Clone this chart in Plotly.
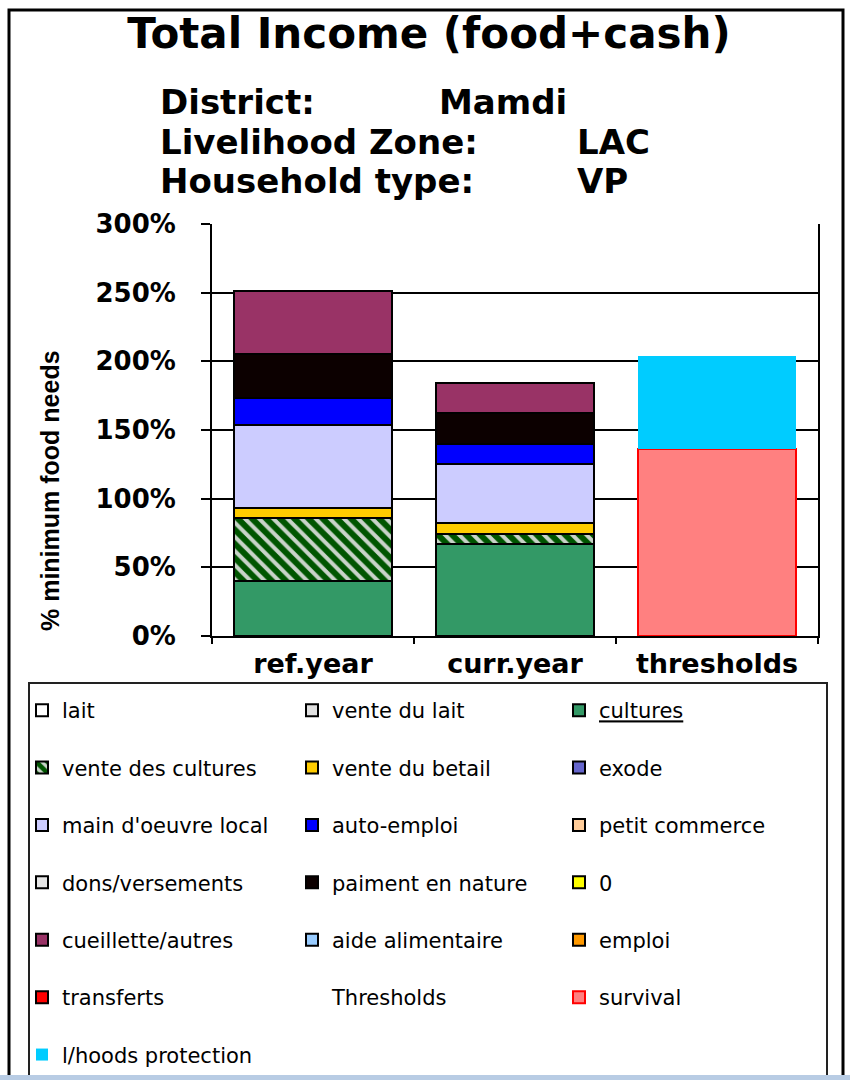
import plotly.graph_objects as go

# ---------------- data ----------------
categories = ["ref.year", "curr.year", "thresholds"]

series_names = [
    "lait", "vente du lait", "cultures",
    "vente des cultures", "vente du betail", "exode",
    "main d'oeuvre local", "auto-emploi", "petit commerce",
    "dons/versements", "paiment en nature", "0",
    "cueillette/autres", "aide alimentaire", "emploi",
    "transferts", "Thresholds", "survival",
    "l/hoods protection",
]

lait = [0, 0, 0]
vente_du_lait = [0, 0, 0]
cultures = [40, 67, 0]
vente_des_cultures = [46, 7, 0]
vente_du_betail = [7, 8.5, 0]
exode = [0, 0, 0]
main_oeuvre_local = [61, 43, 0]
auto_emploi = [19.5, 14, 0]
petit_commerce = [0, 0, 0]
dons_versements = [0, 0, 0]
paiment_en_nature = [31.5, 23, 0]
zero_series = [0, 0, 0]
cueillette_autres = [46, 22, 0]
aide_alimentaire = [0, 0, 0]
emploi = [0, 0, 0]
transferts = [0, 0, 0]
thresholds_header = [0, 0, 0]
survival = [0, 0, 136]
lhoods_protection = [0, 0, 68]

series_values = [
    lait, vente_du_lait, cultures,
    vente_des_cultures, vente_du_betail, exode,
    main_oeuvre_local, auto_emploi, petit_commerce,
    dons_versements, paiment_en_nature, zero_series,
    cueillette_autres, aide_alimentaire, emploi,
    transferts, thresholds_header, survival,
    lhoods_protection,
]

y_tick_values = [0, 50, 100, 150, 200, 250, 300]
y_tick_labels = ["0%", "50%", "100%", "150%", "200%", "250%", "300%"]

title_text = "Total Income (food+cash)"
info_labels = ["District:", "Livelihood Zone:", "Household type:"]
info_values = ["Mamdi", "LAC", "VP"]
y_title = "% minimum food needs"

# ---------------- styles ----------------
fill_colors = [
    "#FFFFFF", "#E0E0E0", "#339966",
    "#006600", "#FFCC00", "#6666CC",
    "#CCCCFF", "#0000FF", "#FFCC99",
    "#E6E6E6", "#0C0000", "#FFFF00",
    "#993366", "#99CCFF", "#FF9900",
    "#FF0000", "rgba(0,0,0,0)", "#FF8080",
    "#00CCFF",
]
line_colors = ["#000000"] * 16 + ["rgba(0,0,0,0)", "#FF0000", "rgba(0,0,0,0)"]
line_widths = [2] * 16 + [0, 2, 0]

# pixel geometry of the plot area
L, R, T, B = 212, 818, 224, 636
W, H = 850, 1080


def px_x(p):
    return (p - L) / (R - L)


def px_y(p):
    return (B - p) / (B - T)


fig = go.Figure()

legend_ids = ["legend", "legend2", "legend3"]
for i, (name, vals) in enumerate(zip(series_names, series_values)):
    marker = dict(color=fill_colors[i],
                  line=dict(color=line_colors[i], width=line_widths[i]))
    if name == "vente des cultures":
        marker["pattern"] = dict(shape="\\", fgcolor="#005500",
                                 bgcolor="#c9d3c9", size=10, solidity=0.6,
                                 fgopacity=1)
    label = "<u>cultures</u>" if name == "cultures" else name
    # zero entries are left empty so no zero-height outline is drawn
    y_plot = [v if v else None for v in vals]
    fig.add_trace(go.Bar(
        x=categories, y=y_plot, name=label, marker=marker,
        legend=legend_ids[i % 3], legendgroup=name,
        legendrank=i, hoverinfo="skip",
    ))

legend_common = dict(
    xref="container", yref="container", xanchor="left", yanchor="top",
    orientation="v", traceorder="grouped", tracegroupgap=27.1,
    font=dict(family="DejaVu Sans", size=21, color="#000000"),
    bgcolor="rgba(0,0,0,0)", borderwidth=0, itemclick=False,
    itemdoubleclick=False,
)
col_left = [22, 292, 559]
leg_top = 690

fig.update_layout(
    width=W, height=H,
    margin=dict(l=L, r=W - R, t=T, b=H - B, pad=0, autoexpand=False),
    paper_bgcolor="white", plot_bgcolor="white",
    barmode="stack", bargap=0.22,
    showlegend=True,
    legend=dict(legend_common, x=col_left[0] / W, y=1 - leg_top / H),
    legend2=dict(legend_common, x=col_left[1] / W, y=1 - leg_top / H),
    legend3=dict(legend_common, x=col_left[2] / W, y=1 - leg_top / H),
    title=dict(text=title_text, xref="container", yref="container",
               x=429 / W, y=1 - 33 / H, xanchor="center", yanchor="middle",
               font=dict(family="DejaVu Sans", size=42, color="black",
                         weight="bold")),
    xaxis=dict(
        type="category", showgrid=False, zeroline=False,
        showline=True, linecolor="black", linewidth=2,
        ticks="outside", tickson="boundaries", ticklen=6, tickwidth=2,
        tickcolor="black", automargin=False, ticklabelstandoff=3,
        tickfont=dict(family="DejaVu Sans", size=27, color="black",
                      weight="bold"),
    ),
    yaxis=dict(
        range=[0, 300], tickvals=y_tick_values, ticktext=y_tick_labels,
        showgrid=True, gridcolor="black", gridwidth=1.6, zeroline=False,
        showline=True, linecolor="black", linewidth=2, mirror=True,
        ticks="outside", ticklen=9, tickwidth=2, tickcolor="black",
        ticklabelstandoff=20, automargin=False,
        tickfont=dict(family="DejaVu Sans", size=26, color="black",
                      weight="bold"),
    ),
)

annotations = []
info_rows = [102, 142, 181]
info_val_x = [437, 575, 575]
for lab, val, yy, vx in zip(info_labels, info_values, info_rows, info_val_x):
    annotations.append(dict(text=lab, x=px_x(158), y=px_y(yy), xref="paper",
                            yref="paper", xanchor="left", yanchor="middle",
                            showarrow=False,
                            font=dict(family="DejaVu Sans", size=34,
                                      color="black", weight="bold")))
    annotations.append(dict(text=val, x=px_x(vx), y=px_y(yy), xref="paper",
                            yref="paper", xanchor="left", yanchor="middle",
                            showarrow=False,
                            font=dict(family="DejaVu Sans", size=34,
                                      color="black", weight="bold")))
annotations.append(dict(text=y_title, x=px_x(50), y=px_y(491), xref="paper",
                        yref="paper", xanchor="center", yanchor="middle",
                        textangle=-90, showarrow=False,
                        font=dict(family="Liberation Sans", size=25,
                                  color="black", weight="bold")))
fig.update_layout(annotations=annotations)

shapes = [
    dict(type="rect", xref="paper", yref="paper",
         x0=px_x(9), x1=px_x(843), y0=px_y(1100), y1=px_y(10),
         line=dict(color="black", width=3), fillcolor="rgba(0,0,0,0)",
         layer="above"),
    dict(type="rect", xref="paper", yref="paper",
         x0=px_x(29), x1=px_x(827), y0=px_y(1100), y1=px_y(683),
         line=dict(color="#222222", width=2), fillcolor="rgba(0,0,0,0)",
         layer="above"),
    dict(type="rect", xref="paper", yref="paper",
         x0=px_x(-10), x1=px_x(860), y0=px_y(1090), y1=px_y(1075),
         line=dict(width=0), fillcolor="#b8cce4", layer="above"),
]
fig.update_layout(shapes=shapes)

fig.write_html("out.html",
               config={"displayModeBar": False},
               post_script="document.body.style.margin='0';"
                           "document.body.style.overflow='hidden';")
